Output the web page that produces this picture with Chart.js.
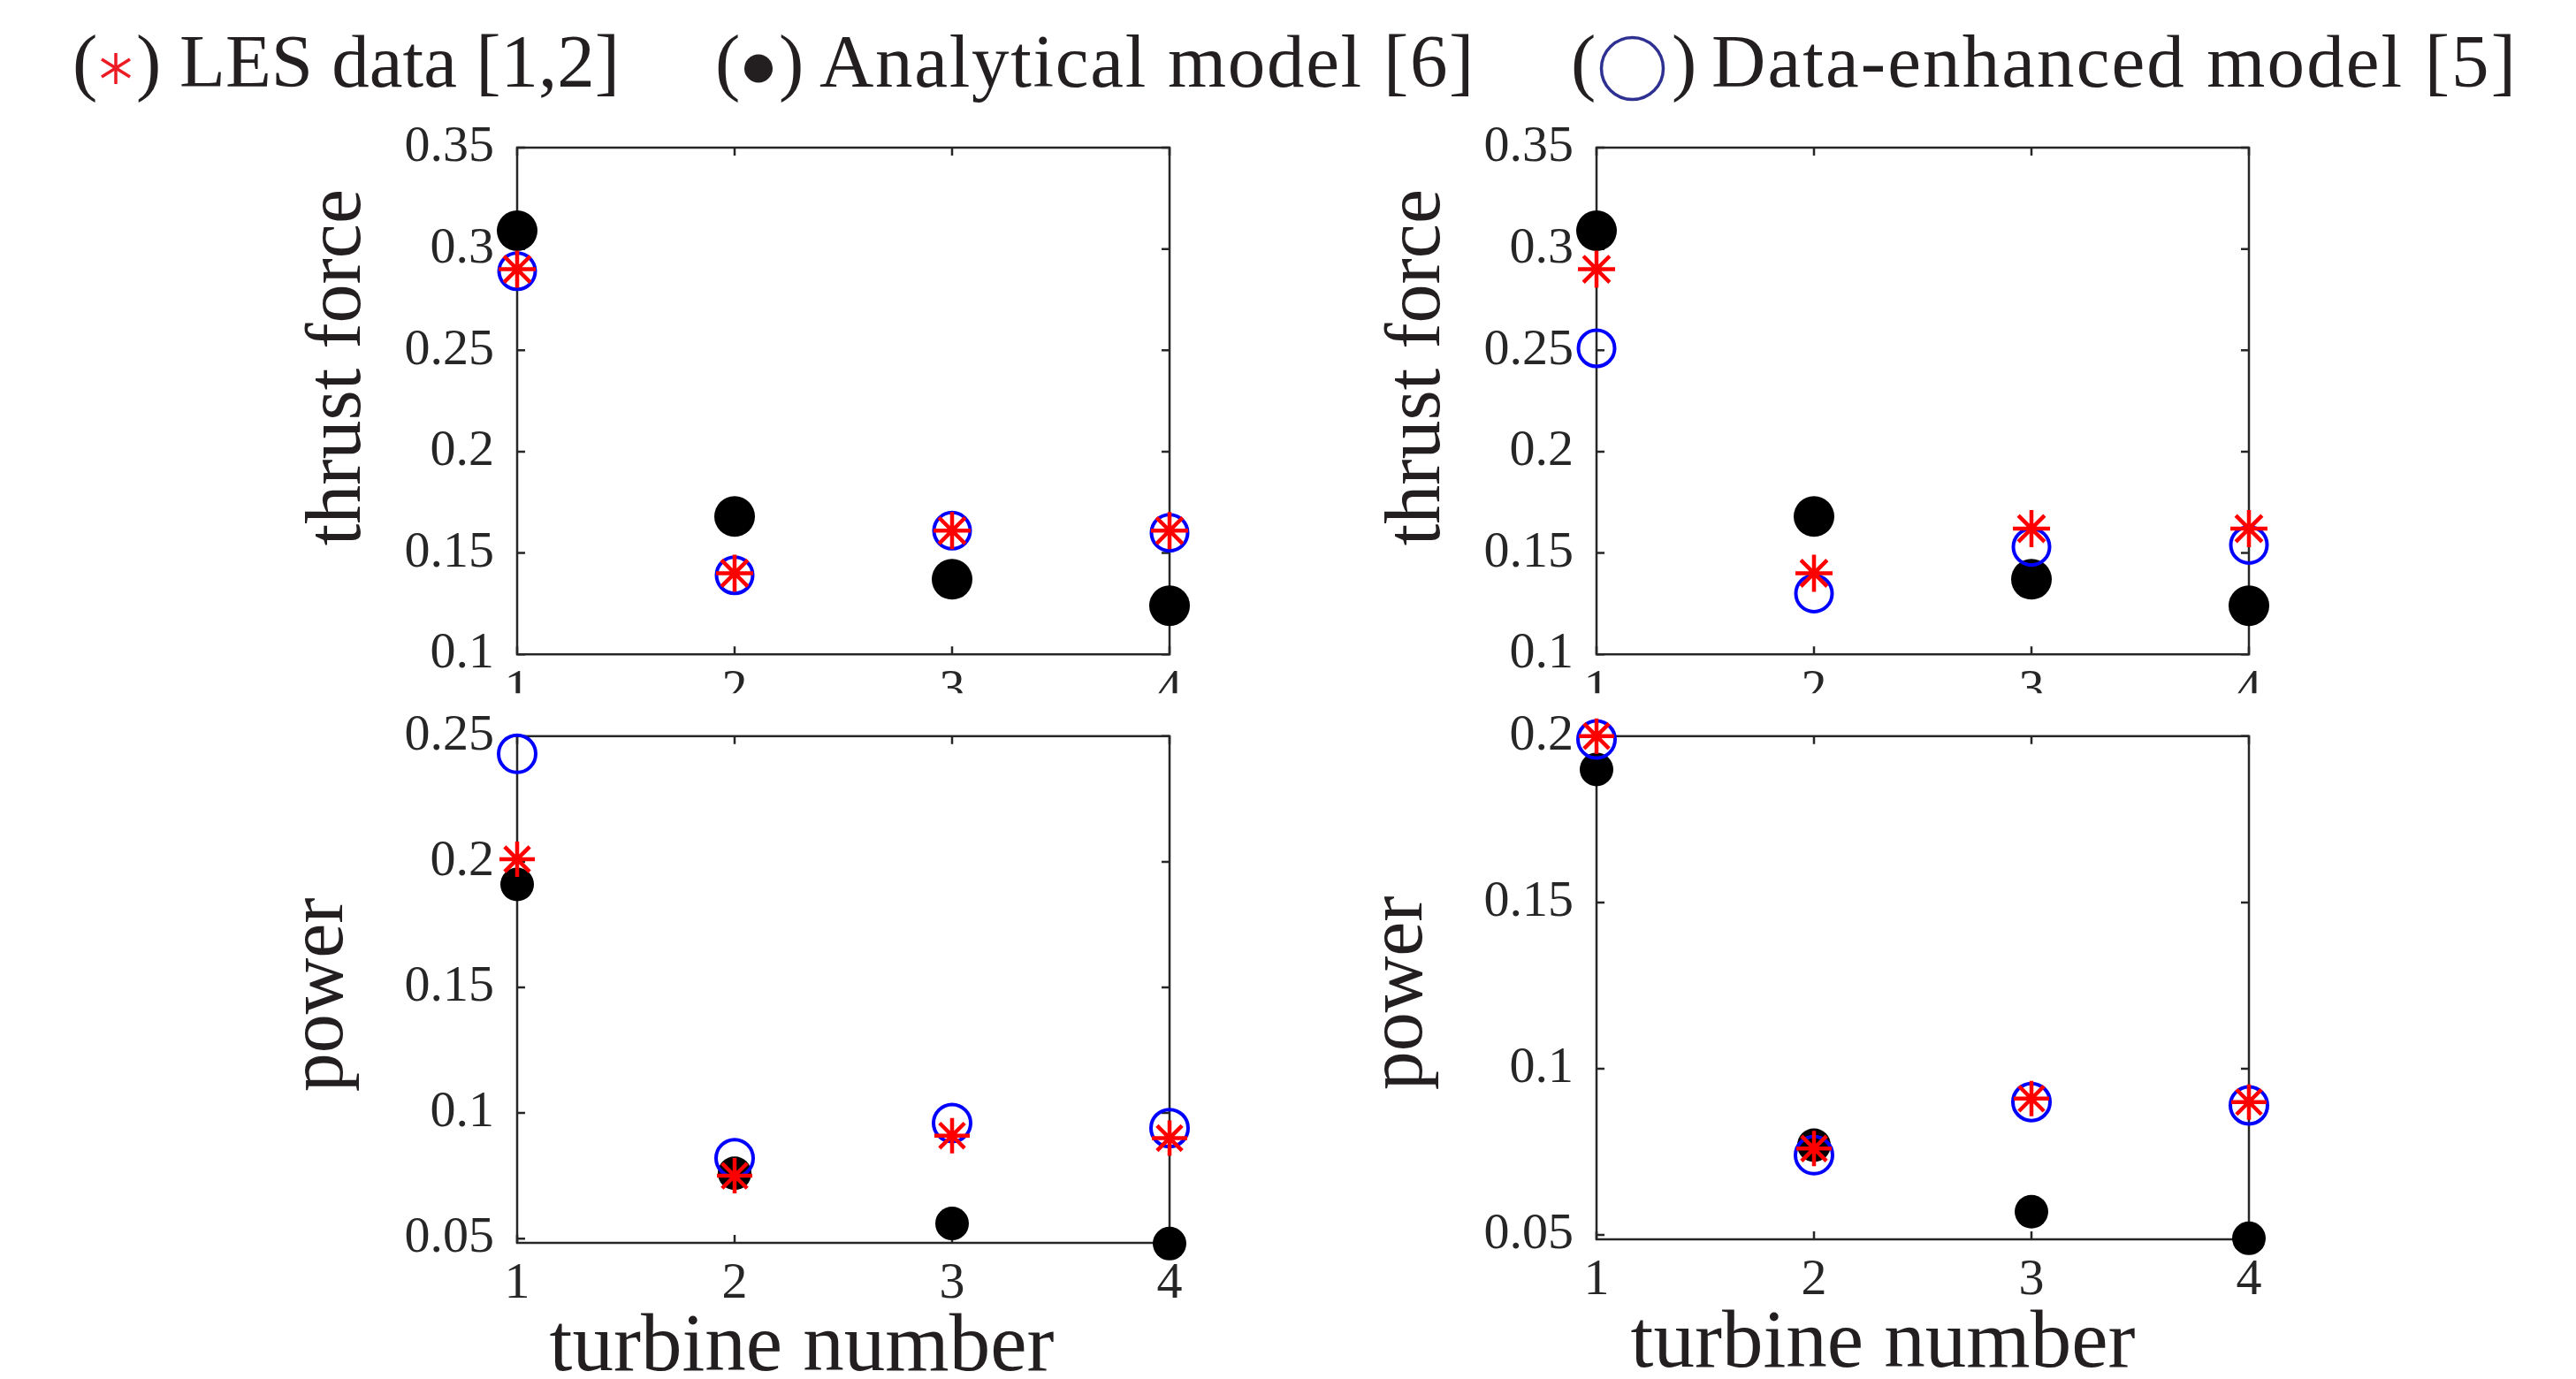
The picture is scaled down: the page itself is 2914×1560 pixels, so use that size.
<!DOCTYPE html>
<html>
<head>
<meta charset="utf-8">
<script src="https://cdn.jsdelivr.net/npm/chart.js@4.4.0/dist/chart.umd.min.js"></script>
<style>
    html, body { margin: 0; padding: 0; background: #fff; }
    body { width: 2914px; height: 1560px; position: relative; overflow: hidden; }
    canvas { position: absolute; }
    .lg {
        position: absolute; top: 27px;
        font: 85px "Liberation Serif", "Times New Roman", serif;
        line-height: 85px; color: #231f20; white-space: pre;
    }
    .wide { letter-spacing: 1.7px; }
    #legendMarks { position: absolute; left: 0; top: 0; }
</style>
</head>
<body>

<!-- legend -->
<div class="lg" style="left:82px">(</div>
<div class="lg" style="left:154px">)</div>
<div class="lg" style="left:203px">LES data [1,2]</div>
<div class="lg" style="left:809px">(</div>
<div class="lg" style="left:881px">)</div>
<div class="lg wide" style="left:927px">Analytical model [6]</div>
<div class="lg" style="left:1777px">(</div>
<div class="lg" style="left:1891px">)</div>
<div class="lg wide" style="left:1936px; letter-spacing:2.1px">Data-enhanced model [5]</div>
<svg id="legendMarks" width="2914" height="160">
    <g stroke="#ed1c24" stroke-width="3.5" stroke-linecap="butt">
        <line x1="131" y1="60" x2="131" y2="95"/>
        <line x1="115" y1="67" x2="147" y2="87"/>
        <line x1="115" y1="87" x2="147" y2="67"/>
    </g>
    <circle cx="858" cy="77.5" r="16" fill="#231f20"/>
    <circle cx="1846.5" cy="77.5" r="35" fill="none" stroke="#2e3192" stroke-width="3.5"/>
</svg>

<canvas id="thrustLeft"></canvas>
<canvas id="thrustRight"></canvas>
<canvas id="powerLeft"></canvas>
<canvas id="powerRight"></canvas>

<script>
/* ── Data ── */

const turbines = [1, 2, 3, 4];
const xTicks   = [1, 2, 3, 4];

const thrustTicks     = [0.1, 0.15, 0.2, 0.25, 0.3, 0.35];
const powerTicksLeft  = [0.05, 0.1, 0.15, 0.2, 0.25];
const powerTicksRight = [0.05, 0.1, 0.15, 0.2];

const thrustLimits     = [0.1, 0.35];
const powerLimitsLeft  = [0.0483, 0.25];
const powerLimitsRight = [0.0487, 0.2];

// left column
const thrustLesL   = [0.290, 0.140, 0.161, 0.161];
const thrustAnaL   = [0.309, 0.168, 0.137, 0.124];
const thrustEnhL   = [0.289, 0.139, 0.161, 0.160];
const powerLesL    = [0.201, 0.075, 0.091, 0.090];
const powerAnaL    = [0.191, 0.076, 0.056, 0.048];
const powerEnhL    = [0.243, 0.082, 0.096, 0.094];

// right column
const thrustLesR   = [0.290, 0.140, 0.162, 0.162];
const thrustAnaR   = [0.309, 0.168, 0.137, 0.124];
const thrustEnhR   = [0.251, 0.130, 0.153, 0.154];
const powerLesR    = [0.200, 0.076, 0.091, 0.090];
const powerAnaR    = [0.190, 0.077, 0.057, 0.049];
const powerEnhR    = [0.199, 0.074, 0.090, 0.089];

/* ── MATLAB-style box, inward ticks and axis titles ── */

const SERIF    = `"Liberation Serif", "Times New Roman", serif`;
const AXIS_CLR = '#262626';
const TEXT_CLR = '#231f20';

const matlabAxes = {
    id: 'matlabAxes',
    beforeDatasetsDraw(chart) {
        const { ctx, chartArea: { left, right, top, bottom }, scales: { x, y } } = chart;
        const tl = 9;
        ctx.save();
        ctx.strokeStyle = AXIS_CLR;
        ctx.lineWidth   = 2.5;
        ctx.beginPath();
        x.ticks.forEach(t => {
            const px = x.getPixelForValue(t.value);
            ctx.moveTo(px, bottom); ctx.lineTo(px, bottom - tl);
            ctx.moveTo(px, top);    ctx.lineTo(px, top + tl);
        });
        y.ticks.forEach(t => {
            const py = y.getPixelForValue(t.value);
            ctx.moveTo(left, py);  ctx.lineTo(left + tl, py);
            ctx.moveTo(right, py); ctx.lineTo(right - tl, py);
        });
        ctx.stroke();
        ctx.strokeRect(left, top, right - left, bottom - top);
        ctx.restore();
    },
    afterDraw(chart) {
        const opts = chart.options.plugins.matlabAxes;
        if (!opts) return;
        const { ctx, chartArea: { left, right, top, bottom } } = chart;
        ctx.save();
        ctx.fillStyle    = TEXT_CLR;
        ctx.textAlign    = 'center';
        ctx.textBaseline = 'alphabetic';
        if (opts.yTitle) {
            ctx.save();
            ctx.font = `88px ${SERIF}`;
            ctx.translate(left - opts.yDx, (top + bottom) / 2 + opts.yDy);
            ctx.rotate(-Math.PI / 2);
            ctx.fillText(opts.yTitle, 0, 0);
            ctx.restore();
        }
        if (opts.xTitle) {
            ctx.font = `93px ${SERIF}`;
            ctx.fillText(opts.xTitle, (left + right) / 2 + opts.xDx, bottom + opts.xDy);
        }
        ctx.restore();
    }
};

/* ── Panels ── */

function makePanel(id, box, series, axis, titles) {
    const canvas = document.getElementById(id);
    canvas.width  = box.width;
    canvas.height = box.height;
    canvas.style.left = box.left + 'px';
    canvas.style.top  = box.top + 'px';

    const pts  = vals => turbines.map((t, i) => ({ x: t, y: vals[i] }));
    const tick = { font: { family: SERIF, size: 58 }, color: AXIS_CLR, autoSkip: false, maxRotation: 0 };

    return new Chart(canvas.getContext('2d'), {
        type:    'scatter',
        plugins: [matlabAxes],
        data: {
            datasets: [
                { data: pts(series.les), pointStyle: 'star',   pointRadius: box.star, borderColor: '#ff0000', borderWidth: 4.5, clip: false },
                { data: pts(series.enh), pointStyle: 'circle', pointRadius: box.ring, borderColor: '#0000ff', backgroundColor: 'rgba(0,0,0,0)', borderWidth: 4, clip: false },
                { data: pts(series.ana), pointStyle: 'circle', pointRadius: box.dot,  backgroundColor: '#000000', borderWidth: 0, clip: false },
            ]
        },
        options: {
            responsive: false,
            animation:  false,
            events:     [],
            layout: { padding: { top: box.padTop, right: box.padRight, left: 0, bottom: 0 } },
            scales: {
                x: {
                    type: 'linear', min: 1, max: 4,
                    afterBuildTicks: s => { s.ticks = xTicks.map(v => ({ value: v })); },
                    afterFit:        s => { s.height = box.xHeight; },
                    grid:   { display: false },
                    border: { display: false },
                    ticks:  { ...tick, padding: box.xPad },
                },
                y: {
                    type: 'linear', min: axis.limits[0], max: axis.limits[1],
                    afterBuildTicks: s => { s.ticks = axis.ticks.map(v => ({ value: v })); },
                    afterFit:        s => { s.width = box.yWidth; },
                    grid:   { display: false },
                    border: { display: false },
                    ticks:  { ...tick, padding: 18, callback: v => String(+v.toFixed(2)) },
                },
            },
            plugins: {
                legend:     { display: false },
                tooltip:    { enabled: false },
                matlabAxes: titles,
            },
        }
    });
}

const topBox = { top: 110, width: 1060, height: 683, yWidth: 265, padTop: 57, padRight: 57, xHeight: 44, xPad: -1, star: 21, ring: 20.5, dot: 23 };
const thrustTitle = { yTitle: 'thrust force', yDx: 178, yDy: -38 };

makePanel('thrustLeft',  { ...topBox, left: 320 },
    { les: thrustLesL, ana: thrustAnaL, enh: thrustEnhL },
    { ticks: thrustTicks, limits: thrustLimits }, thrustTitle);

makePanel('thrustRight', { ...topBox, left: 1541 },
    { les: thrustLesR, ana: thrustAnaR, enh: thrustEnhR },
    { ticks: thrustTicks, limits: thrustLimits }, thrustTitle);

const botBox = { top: 780, width: 1060, height: 780, yWidth: 265, padRight: 57, xPad: 4, star: 20, ring: 21, dot: 19 };
const powerTitle = { yTitle: 'power', yDx: 198, yDy: 6, xTitle: 'turbine number', xDy: 144 };

makePanel('powerLeft',  { ...botBox, left: 320, padTop: 44, xHeight: 154 },
    { les: powerLesL, ana: powerAnaL, enh: powerEnhL },
    { ticks: powerTicksLeft, limits: powerLimitsLeft }, { ...powerTitle, xDx: -47 });

makePanel('powerRight', { ...botBox, left: 1541, padTop: 40, xHeight: 158 },
    { les: powerLesR, ana: powerAnaR, enh: powerEnhR },
    { ticks: powerTicksRight, limits: powerLimitsRight }, { ...powerTitle, xDx: -45 });
</script>
</body>
</html>
